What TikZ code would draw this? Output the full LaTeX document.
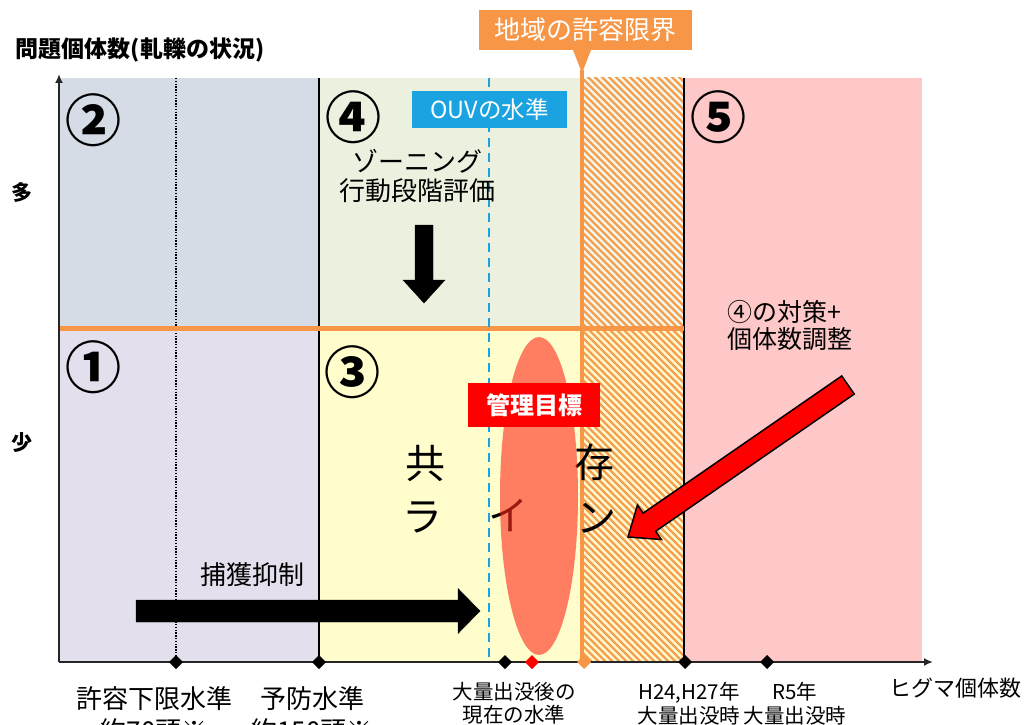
\documentclass[tikz,border=0pt]{standalone}
\usepackage{fontspec}
\setmainfont{Noto Sans CJK JP}
\usetikzlibrary{calc,shapes.geometric,arrows.meta}
\definecolor{orng}{HTML}{F79646}
\definecolor{hatchc}{HTML}{F5A04E}
\definecolor{blu}{HTML}{1AA3E0}
\definecolor{rgA}{HTML}{D6DCE5}
\definecolor{rgB}{HTML}{E4DFEC}
\definecolor{rgC}{HTML}{EBF1DE}
\definecolor{rgD}{HTML}{FFFDCB}
\definecolor{rgE}{HTML}{FFC8C8}
\definecolor{hatchtop}{HTML}{F3F6EC}
\definecolor{hatchbot}{HTML}{FFF9D2}
\definecolor{ellc}{HTML}{FF2A1C}
\definecolor{axc}{HTML}{262626}
\newcommand\myfs[2]{\fontsize{#1}{#2}\selectfont}
% tail, tip, half shaft, half head, head length, style
\newcommand\blockarrow[6]{%
  \coordinate (#1-base) at ($(#2)!#5!(#1)$);
  \filldraw[#6] ($(#1)!#3!90:(#2)$) -- ($(#1-base)!#3!90:(#2)$) -- ($(#1-base)!#4!90:(#2)$) -- (#2) -- ($(#1-base)!#4!-90:(#2)$) -- ($(#1-base)!#3!-90:(#2)$) -- ($(#1)!#3!-90:(#2)$) -- cycle;}
\begin{document}
\begin{tikzpicture}[x=1pt,y=-1pt,
  every node/.style={inner sep=0pt, outer sep=0pt},
  circnum/.style={font=\bfseries\myfs{56}{56}},
  lab/.style={font=\myfs{26}{29}, align=center},
  botlab/.style={font=\myfs{26}{32}, align=center},
  sublab/.style={font=\myfs{20.5}{23.5}, align=center},
  bigch/.style={font=\myfs{40}{40}},
  tagbox/.style={text=white, font=\myfs{26}{26}},
  dia/.style={diamond, minimum size=14pt, fill=black},
  axisl/.style={draw=axc, line width=2pt},
  divider/.style={line width=1.3pt, draw=black}]
\useasboundingbox (0,0) rectangle (1029,725);
\clip (0,0) rectangle (1029,725);
\fill[white] (0,0) rectangle (1029,725);
% regions
\fill[rgA] (59,78) rectangle (319,328);
\fill[rgB] (59,328) rectangle (319,662);
\fill[rgC] (319,78) rectangle (584,328);
\fill[rgD] (319,328) rectangle (584,662);
\fill[rgE] (684,78) rectangle (922,662);
% hatched band
\begin{scope}
  \clip (584,78) rectangle (684,662);
  \fill[hatchtop] (584,78) rectangle (684,328);
  \fill[hatchbot] (584,328) rectangle (684,662);
  \foreach \c in {-84,-77,...,612} \draw[hatchc, line width=2.4pt] (\c+68,68) -- (\c+672,672);
\end{scope}
% lines
\draw[line width=1.2pt, dash pattern=on 1.4pt off 1.4pt] (176,78) -- (176,662);
\draw[divider] (319,78) -- (319,662);
\draw[divider] (684,78) -- (684,662);
\draw[orng, line width=5pt] (59,328) -- (684,328);
\draw[orng, line width=4pt] (582,70) -- (582,662);
\draw[blu, line width=2.5pt, dash pattern=on 9pt off 6pt] (489,78) -- (489,662);
% texts
\node[anchor=west, font=\bfseries\myfs{23}{23}] (ylab) at (16,50) {問題個体数(軋轢の状況)};
\node[font=\bfseries\myfs{21}{21}] (many) at (22,192) {多};
\node[font=\bfseries\myfs{21}{21}] (few) at (22,443) {少};
\node[circnum] (n2) at (93,120) {②};
\node[circnum] (n4) at (353,117) {④};
\node[circnum] (n1) at (93,367) {①};
\node[circnum] (n3) at (352,372) {③};
\node[circnum] (n5) at (718,117) {⑤};
\node[lab] (zone) at (417,176.5) {ゾーニング\\行動段階評価};
\node[lab, align=left, anchor=west, font=\myfs{25}{27}] (cnt) at (727,325.5) {④の対策+\\個体数調整};
\node[lab] (capt) at (252,575) {捕獲抑制};
\node[bigch] (k1) at (425,463) {共};
\node[bigch] (k2) at (594,462) {存};
\node[bigch] (k3) at (422,517) {ラ};
\node[bigch] (k4) at (508,515) {イ};
\node[bigch] (k5) at (596,518) {ン};
% ellipse
\node[ellipse, fill=ellc, fill opacity=0.6, minimum width=78pt, minimum height=318pt] (goal) at (539,496) {};
% tag boxes
\node[tagbox, fill=orng, minimum width=213pt, minimum height=40pt] (limit) at (585.5,30) {地域の許容限界};
\fill[orng] (573,50) -- (591,50) -- (582,73) -- cycle;
\node[tagbox, fill=blu, minimum width=155pt, minimum height=37pt, font=\myfs{23.5}{23.5}] (ouv) at (489.5,109.5) {OUVの水準};
\node[tagbox, fill=red, minimum width=132pt, minimum height=44pt, font=\bfseries\myfs{24}{24}] (mgmt) at (534,405) {管理目標};
% block arrows
\coordinate (zT) at (424,225);
\coordinate (zH) at (424,303);
\blockarrow{zT}{zH}{9pt}{21pt}{23pt}{fill=black, draw=black}
\coordinate (cT) at (136,611);
\coordinate (cH) at (480,611);
\blockarrow{cT}{cH}{11pt}{22.5pt}{22pt}{fill=black, draw=black}
\coordinate (rT) at (848,385);
\coordinate (rH) at (628,537);
\blockarrow{rT}{rH}{11pt}{21pt}{26pt}{fill=red, draw=black, line width=1.5pt, line join=miter}
% axes
\coordinate (O) at (59,662);
\coordinate (Ytop) at (59,74);
\coordinate (Xend) at (933,662);
\draw[axisl, -{Latex[length=9pt,width=8pt]}] (O) -- (Ytop);
\draw[axisl, -{Latex[length=9pt,width=8pt]}] (O) -- (Xend);
% diamonds
\node[dia] (d1) at (176,662) {};
\node[dia] (d2) at (319,662) {};
\node[dia] (d3) at (505,662) {};
\node[dia, fill=red] (d4) at (532,662) {};
\node[dia, fill=orng] (d5) at (584,662) {};
\node[dia] (d6) at (685,662) {};
\node[dia] (d7) at (767,662) {};
% bottom labels
\node[botlab] (l1) at (154,715) {許容下限水準\\約70頭※};
\node[botlab] (l2) at (312,715) {予防水準\\約150頭※};
\node[sublab] (l3) at (514,703.5) {大量出没後の\\現在の水準};
\node[sublab] (l4) at (689,703.5) {H24,H27年\\大量出没時};
\node[sublab] (l5) at (795,703.5) {R5年\\大量出没時};
\node[anchor=west, font=\myfs{22}{22}] (xlab) at (889,688) {ヒグマ個体数};
\end{tikzpicture}
\end{document}
